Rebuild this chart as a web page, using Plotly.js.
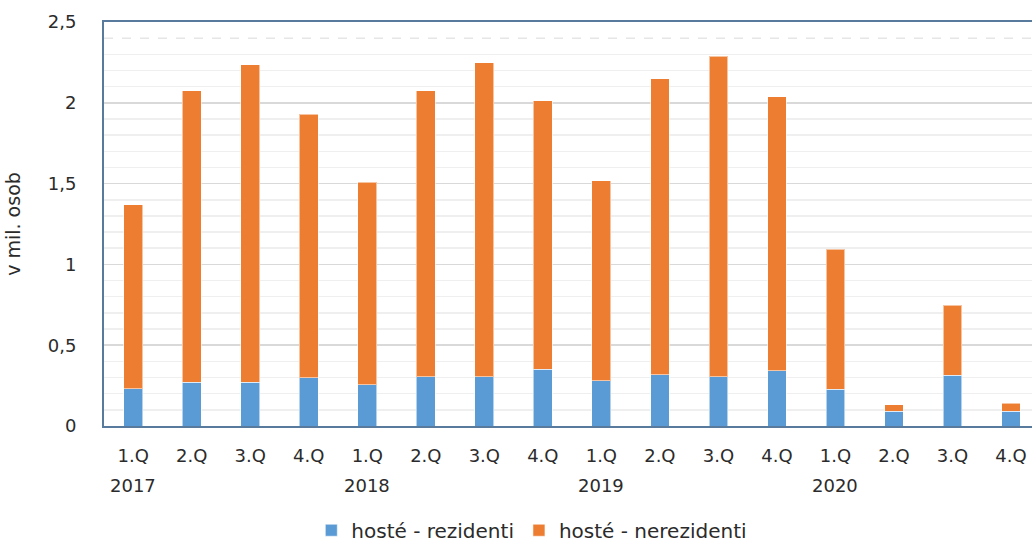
<!DOCTYPE html>
<html>
<head>
<meta charset="utf-8">
<script src="https://cdn.plot.ly/plotly-3.0.1.min.js"></script>
<style>html,body{margin:0;padding:0;background:#fff;}#chart{width:1032px;height:544px;}</style>
</head>
<body>
<div id="chart"></div>
<script>
const quarters = ["1.Q","2.Q","3.Q","4.Q","1.Q","2.Q","3.Q","4.Q","1.Q","2.Q","3.Q","4.Q","1.Q","2.Q","3.Q","4.Q"];
const yearLabels = ["2017","","","","2018","","","","2019","","","","2020","","",""];
const rezidenti = [0.23,0.27,0.27,0.30,0.255,0.306,0.306,0.351,0.28,0.317,0.306,0.342,0.226,0.092,0.314,0.092];
const totals = [1.37,2.076,2.237,1.928,1.507,2.076,2.249,2.014,1.517,2.15,2.288,2.039,1.094,0.131,0.748,0.141];
const nerezidenti = totals.map((t,i)=>+(t - rezidenti[i]).toFixed(3));
const seriesNames = ["hosté - rezidenti","hosté - nerezidenti"];
const yTickVals = [0,0.5,1,1.5,2,2.5];
const yTickText = ["0","0,5","1","1,5","2","2,5"];

const idx = quarters.map((_,i)=>i);
const FONT = "'DejaVu Sans', sans-serif";
const FS = 18;
const TXT = "#2b2b2b";
const barLine = {color:"rgba(255,255,255,0.55)", width:1};

const traces = [
  {type:"bar", name:seriesNames[0], x:idx, y:rezidenti, width:0.32,
   marker:{color:"#5b9bd5", line:barLine}, hoverinfo:"y"},
  {type:"bar", name:seriesNames[1], x:idx, y:nerezidenti, width:0.32,
   marker:{color:"#ed7d31", line:barLine}, hoverinfo:"y"}
];

const minorVals = [];
for (let k=1;k<25;k++){ if (k%5!==0 && k!==24) minorVals.push(k/10); }

const annotations = [];
yearLabels.forEach((lab,i)=>{
  if(lab) annotations.push({x:i, xref:"x", y:0, yref:"paper", yshift:-59, text:lab,
    showarrow:false, font:{family:FONT,size:FS,color:TXT}, xanchor:"center", yanchor:"middle"});
});

const layout = {
  width:1032, height:544,
  margin:{l:104, r:0, t:22, b:118, autoexpand:false},
  paper_bgcolor:"#ffffff", plot_bgcolor:"#ffffff",
  barmode:"stack",
  font:{family:FONT, size:FS, color:TXT},
  xaxis:{
    range:[-0.5,15.36], tickmode:"array", tickvals:idx, ticktext:quarters,
    showgrid:false, zeroline:false, showline:true, mirror:true,
    linecolor:"#587a9c", linewidth:2, ticks:"", ticklabelstandoff:12,
    tickfont:{family:FONT,size:FS,color:TXT}, fixedrange:true
  },
  yaxis:{
    range:[0,2.5], tickmode:"array", tickvals:yTickVals, ticktext:yTickText,
    showgrid:true, gridcolor:"#d9d9d9", gridwidth:1.5, zeroline:false,
    showline:true, mirror:true, linecolor:"#587a9c", linewidth:2, ticks:"",
    ticklabelstandoff:22,
    minor:{tickmode:"array", tickvals:minorVals, showgrid:true, gridcolor:"#efefef", gridwidth:1.5, ticks:""},
    tickfont:{family:FONT,size:FS,color:TXT},
    title:{text:"v mil. osob", font:{family:FONT,size:19,color:TXT}, standoff:22},
    fixedrange:true
  },
  shapes:[{type:"line", xref:"paper", x0:0, x1:1, yref:"y", y0:2.4, y1:2.4,
    line:{color:"#e6e6e6", width:1.5, dash:"dash"}, layer:"between"}],
  annotations:annotations,
  legend:{orientation:"h", x:0.461, xanchor:"center", y:-0.258, yanchor:"middle",
    font:{family:FONT,size:20,color:TXT}, traceorder:"normal", itemwidth:30},
  showlegend:true
};

Plotly.newPlot("chart", traces, layout, {displayModeBar:false, staticPlot:true});
</script>
</body>
</html>
